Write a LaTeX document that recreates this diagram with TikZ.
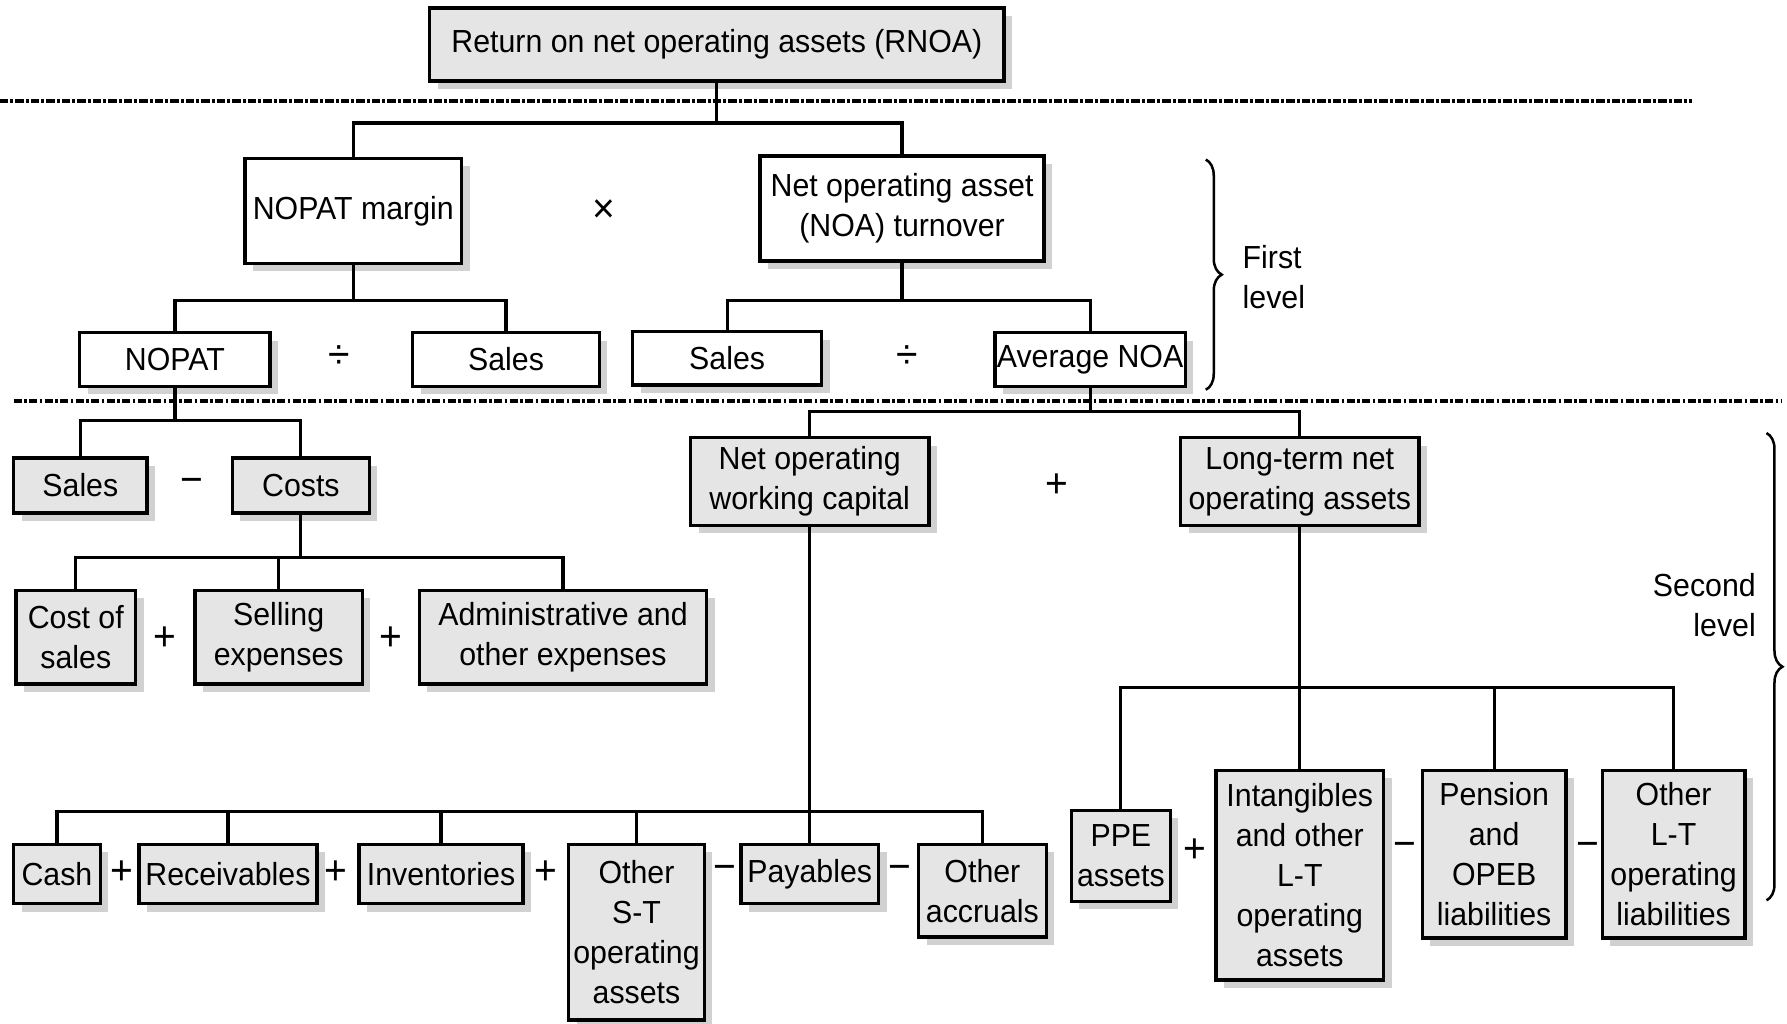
\documentclass[tikz,border=0pt]{standalone}
\usepackage{fontspec}
\setmainfont{Liberation Sans}[FakeStretch=0.95]
\usetikzlibrary{shadows,decorations.pathreplacing}
\tikzset{
 box/.style={draw=black, line width=1.5pt, inner sep=0pt, align=center,
   font=\fontsize{14}{17.5}\selectfont,
   drop shadow={shadow xshift=3.5pt, shadow yshift=-3.5pt, fill=black!18, opacity=1}},
 gbox/.style={box, fill=black!10},
 wbox/.style={box, fill=white},
 conn/.style={line width=1.4pt},
 op/.style={font=\fontsize{18}{20}\selectfont, inner sep=0pt},
 sepline/.style={line width=1.8pt, dash pattern=on 3.6pt off 1pt on 1.2pt off 1pt},
 brc/.style={decorate, decoration={brace, amplitude=7pt}, line width=1.1pt},
 lbl/.style={font=\fontsize{14}{17.5}\selectfont, inner sep=0pt}
}
\begin{document}
\begin{tikzpicture}[x=0.5pt, y=-0.5pt]
\useasboundingbox (0,0) rectangle (1568,898);
% separators
\coordinate (d1a) at (0,89); \coordinate (d1b) at (1485,89);
\coordinate (d2a) at (12,352); \coordinate (d2b) at (1563,352);
\draw[sepline] (d1a) -- (d1b);
\draw[sepline] (d2a) -- (d2b);
% top
\node[gbox, minimum width=252pt, minimum height=32pt] (rnoa) at (629,39) {Return on net operating assets (RNOA)};
% first level
\node[wbox, minimum width=95pt, minimum height=46pt] (nm) at (310,185) {NOPAT margin};
\node[wbox, minimum width=124.5pt, minimum height=46pt] (nt) at (791.5,183) {Net operating asset\\(NOA) turnover};
\node[wbox, minimum width=83.5pt, minimum height=23.5pt] (np) at (153.5,315.5) {NOPAT};
\node[wbox, minimum width=82pt, minimum height=23.5pt] (s1) at (444,315.5) {Sales};
\node[wbox, minimum width=83pt, minimum height=23.5pt] (s2) at (638,314.5) {Sales};
\node[wbox, minimum width=83.5pt, minimum height=23.5pt] (an) at (956.5,315.5) {Average NOA};
% second level
\node[gbox, minimum width=58.5pt, minimum height=24pt] (s3) at (70.5,426) {Sales};
\node[gbox, minimum width=60pt, minimum height=24pt] (co) at (264,426) {Costs};
\node[gbox, minimum width=52.5pt, minimum height=41pt] (cs) at (66.5,559) {Cost of\\sales};
\node[gbox, minimum width=73.5pt, minimum height=41pt] (se) at (244.5,559) {Selling\\expenses};
\node[gbox, minimum width=126pt, minimum height=41pt] (ad) at (494,559) {Administrative and\\other expenses};
\node[gbox, minimum width=104.5pt, minimum height=38.5pt] (wc) at (710.5,422.5) {Net operating\\working capital};
\node[gbox, minimum width=104.5pt, minimum height=38.5pt] (lt) at (1140.5,422.5) {Long-term net\\operating assets};
\node[gbox, minimum width=38pt, minimum height=26pt] (ca) at (50,767) {Cash};
\node[gbox, minimum width=78pt, minimum height=26pt] (re) at (200,767) {Receivables};
\node[gbox, minimum width=72pt, minimum height=26pt] (in) at (387,767) {Inventories};
\node[gbox, minimum width=59.5pt, minimum height=77pt] (os) at (558.5,818) {Other\\S-T\\operating\\assets};
\node[gbox, minimum width=60.5pt, minimum height=26pt] (pa) at (710.5,767) {Payables};
\node[gbox, minimum width=56pt, minimum height=40.5pt] (oa) at (862,781.5) {Other\\accruals};
\node[gbox, minimum width=43.5pt, minimum height=40pt] (pp) at (983.5,751) {PPE\\assets};
\node[gbox, minimum width=73.5pt, minimum height=92pt] (ia) at (1140.5,768) {Intangibles\\and other\\L-T\\operating\\assets};
\node[gbox, minimum width=63pt, minimum height=73.5pt] (pe) at (1311,749.5) {Pension\\and\\OPEB\\liabilities};
\node[gbox, minimum width=62.5pt, minimum height=73.5pt] (ol) at (1468.5,749.5) {Other\\L-T\\operating\\liabilities};
% operators
\node[op] (o1) at (530,185) {×};
\node[op] (o2) at (298,313) {÷};
\node[op] (o3) at (796,313) {÷};
\node[op] (o4) at (168,426) {−};
\node[op] (o5) at (927,426) {+};
\node[op] (o6) at (145,560) {+};
\node[op] (o7) at (343,560) {+};
\node[op] (o8) at (107,766) {+};
\node[op] (o9) at (295,766) {+};
\node[op] (o10) at (479,766) {+};
\node[op] (o11) at (636,766) {−};
\node[op] (o12) at (790,766) {−};
\node[op] (o13) at (1048,746) {+};
\node[op] (o14) at (1233,746) {−};
\node[op] (o15) at (1393,746) {−};
% connectors
\coordinate (b1) at (629,108);
\draw[conn] (rnoa.south) -- (b1);
\draw[conn] (nm.north) |- (b1) -| (nt.north);
\coordinate (b2) at (310,264);
\draw[conn] (nm.south) -- (b2);
\draw[conn] (np.north) |- (b2) -| (s1.north);
\coordinate (b3) at (791.5,264);
\draw[conn] (nt.south) -- (b3);
\draw[conn] (s2.north) |- (b3) -| (an.north);
\coordinate (b4) at (153.5,369);
\draw[conn] (np.south) -- (b4);
\draw[conn] (s3.north) |- (b4) -| (co.north);
\coordinate (b5) at (956.5,361);
\draw[conn] (an.south) -- (b5);
\draw[conn] (wc.north) |- (b5) -| (lt.north);
\coordinate (b6) at (264,489);
\draw[conn] (co.south) -- (b6);
\draw[conn] (cs.north) |- (b6) -| (ad.north);
\draw[conn] (se.north) -- (se.north |- b6);
\coordinate (b7) at (710.5,712);
\draw[conn] (wc.south) -- (pa.north);
\draw[conn] (ca.north) |- (b7) -| (oa.north);
\draw[conn] (re.north) -- (re.north |- b7);
\draw[conn] (in.north) -- (in.north |- b7);
\draw[conn] (os.north) -- (os.north |- b7);
\coordinate (b8) at (1140.5,603);
\draw[conn] (lt.south) -- (ia.north);
\draw[conn] (pp.north) |- (b8) -| (ol.north);
\draw[conn] (pe.north) -- (pe.north |- b8);
% braces and labels
\coordinate (br1a) at (1058,140); \coordinate (br1b) at (1058,342);
\draw[brc] (br1a) -- (br1b);
\node[lbl, anchor=west, align=left] (fl) at (1090,243) {First\\level};
\coordinate (br2a) at (1550,380); \coordinate (br2b) at (1550,790);
\draw[brc] (br2a) -- (br2b);
\node[lbl, anchor=east, align=right] (sl) at (1541,531) {Second\\level};
\end{tikzpicture}
\end{document}
